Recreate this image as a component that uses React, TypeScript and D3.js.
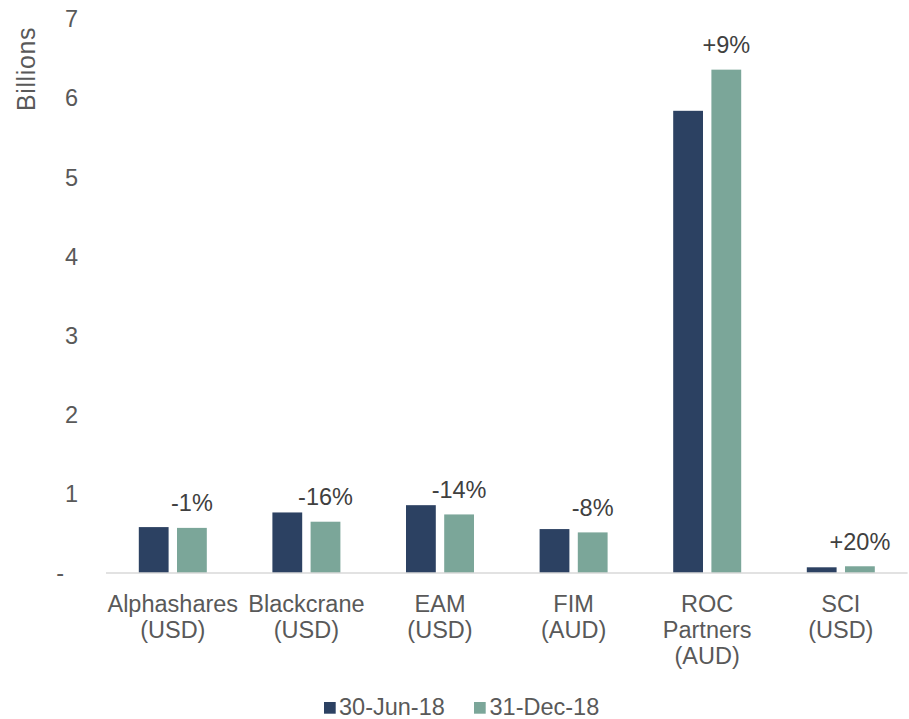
import React from 'react';
import { scaleBand, scaleLinear } from 'd3';

// categories (multi-line labels) and the two period series, in billions
const categories = [
  ['Alphashares', '(USD)'],
  ['Blackcrane', '(USD)'],
  ['EAM', '(USD)'],
  ['FIM', '(AUD)'],
  ['ROC', 'Partners', '(AUD)'],
  ['SCI', '(USD)'],
];
const seriesNames = ['30-Jun-18', '31-Dec-18'];
const jun18 = [0.58, 0.765, 0.857, 0.555, 5.84, 0.072];
const dec18 = [0.57, 0.648, 0.74, 0.513, 6.36, 0.085];
const changeLabels = ['-1%', '-16%', '-14%', '-8%', '+9%', '+20%'];
const yTicks = [0, 1, 2, 3, 4, 5, 6, 7];

const colors = ['#2c4162', '#7ba699'];
const font = '"Liberation Sans", Arial, sans-serif';

function App() {
  const width = 909;
  const height = 719;
  const fontSize = 23.5;

  const keys = categories.map((c) => c.join(' '));
  const xScale = scaleBand().domain(keys).range([106, 907.6]).padding(0);
  const bw = xScale.bandwidth();
  const inner = scaleBand()
    .domain(seriesNames)
    .range([bw / 2 - 34, bw / 2 + 34])
    .paddingInner(0.22);
  const yScale = scaleLinear().domain([0, 7]).range([573, 19]);

  const series = [jun18, dec18];

  return (
    <svg
      width={width}
      height={height}
      style={{ position: 'absolute', left: 0, top: 0, background: '#fff' }}
      fontFamily={font}
    >
      {/* y axis title */}
      <text
        transform={`translate(35, 69) rotate(-90)`}
        textAnchor="middle"
        fontSize={25}
        letterSpacing={0.6}
        fill="#595959"
      >
        Billions
      </text>

      {/* y tick labels */}
      {yTicks.map((t) => (
        <text
          key={t}
          x={t === 0 ? 64 : 78}
          y={yScale(t)}
          dy="0.35em"
          textAnchor="end"
          fontSize={fontSize}
          fill="#595959"
        >
          {t === 0 ? '-' : t}
        </text>
      ))}

      {/* bars */}
      {series.map((vals, si) =>
        vals.map((v, i) => (
          <rect
            key={`${si}-${i}`}
            x={xScale(keys[i]) + inner(seriesNames[si])}
            y={yScale(v)}
            width={inner.bandwidth()}
            height={yScale(0) - yScale(v)}
            fill={colors[si]}
          />
        ))
      )}

      {/* x axis line */}
      <line
        x1={106}
        x2={907.6}
        y1={yScale(0)}
        y2={yScale(0)}
        stroke="#d9d9d9"
        strokeWidth={1.5}
      />

      {/* change labels above the Dec bars */}
      {changeLabels.map((lab, i) => (
        <text
          key={lab}
          x={xScale(keys[i]) + inner(seriesNames[1]) + inner.bandwidth() / 2}
          y={yScale(dec18[i]) - 16.5}
          textAnchor="middle"
          fontSize={fontSize}
          fill="#404040"
        >
          {lab}
        </text>
      ))}

      {/* category labels */}
      {categories.map((lines, i) => (
        <text
          key={keys[i]}
          x={xScale(keys[i]) + bw / 2}
          y={611.5}
          textAnchor="middle"
          fontSize={fontSize}
          fill="#595959"
        >
          {lines.map((l, j) => (
            <tspan key={j} x={xScale(keys[i]) + bw / 2} dy={j === 0 ? 0 : 26}>
              {l}
            </tspan>
          ))}
        </text>
      ))}

      {/* legend */}
      <g>
        <rect x={324} y={702} width={11.7} height={11.7} fill={colors[0]} />
        <text x={339} y={715} fontSize={fontSize} fill="#595959">
          {seriesNames[0]}
        </text>
        <rect x={474} y={702} width={11.7} height={11.7} fill={colors[1]} />
        <text x={489.5} y={715} fontSize={fontSize} fill="#595959">
          {seriesNames[1]}
        </text>
      </g>
    </svg>
  );
}

export default App;
